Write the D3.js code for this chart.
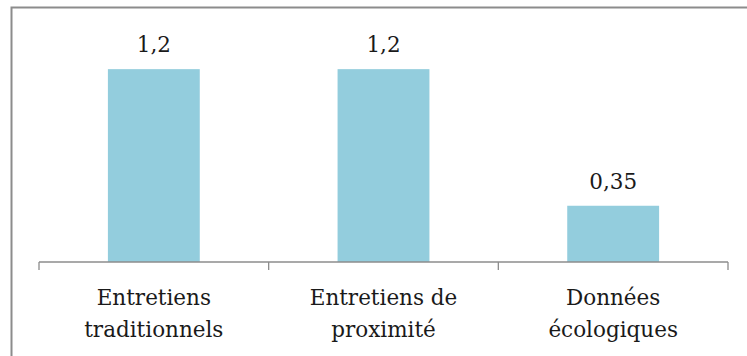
<!DOCTYPE html>
<html>
<head>
<meta charset="utf-8">
<style>
  body { margin: 0; background: #fff; }
  svg text { font-family: "DejaVu Serif", "Liberation Serif", serif; fill: #1a1a1a; }
</style>
</head>
<body>
<div id="container"></div>
<script src="https://d3js.org/d3.v7.min.js"></script>
<script>
// data
var categories = [["Entretiens", "traditionnels"], ["Entretiens de", "proximité"], ["Données", "écologiques"]];
var values = [1.2, 1.2, 0.35];
var valueLabels = ["1,2", "1,2", "0,35"];

var W = 747, H = 356;
var margin = {top: 37, right: 19, bottom: 94, left: 39},
    width = W - margin.left - margin.right,
    height = H - margin.top - margin.bottom;

var svg = d3.select("#container").append("svg")
    .attr("width", W)
    .attr("height", H);

// outer frame (cropped at right and bottom)
svg.append("rect")
    .attr("x", 11.5).attr("y", 7.5)
    .attr("width", W + 10).attr("height", H + 10)
    .attr("fill", "none")
    .attr("stroke", "#8c8c8c")
    .attr("stroke-width", 2);

var g = svg.append("g")
    .attr("transform", "translate(" + margin.left + "," + margin.top + ")");

var keys = categories.map(function (d, i) { return i; });

var x = d3.scaleBand()
    .domain(keys)
    .range([0, width])
    .paddingInner(0.6)
    .paddingOuter(0.3);

var xb = d3.scaleBand().domain(keys).range([0, width]);

var y = d3.scaleLinear()
    .domain([0, 1.4])
    .range([height, 0]);

// bars
g.selectAll("rect.bar").data(values).enter().append("rect")
    .attr("class", "bar")
    .attr("x", function (d, i) { return x(i); })
    .attr("y", function (d) { return y(d); })
    .attr("width", x.bandwidth())
    .attr("height", function (d) { return height - y(d); })
    .attr("fill", "#93cddd");

// axis line and ticks
var axis = g.append("g").attr("transform", "translate(0," + height + ")");
axis.append("line")
    .attr("x1", 0).attr("x2", width)
    .attr("stroke", "#8c8c8c").attr("stroke-width", 1.3);
axis.selectAll("line.tick").data(keys.concat([keys.length])).enter().append("line")
    .attr("class", "tick")
    .attr("x1", function (d) { return d < keys.length ? xb(d) : width; })
    .attr("x2", function (d) { return d < keys.length ? xb(d) : width; })
    .attr("y1", 0).attr("y2", 8)
    .attr("stroke", "#8c8c8c").attr("stroke-width", 1.3);

// category labels
var lab = axis.selectAll("text.cat").data(categories).enter().append("text")
    .attr("class", "cat")
    .attr("text-anchor", "middle")
    .attr("x", function (d, i) { return xb(i) + xb.bandwidth() / 2; })
    .attr("y", 43)
    .style("font-size", "21.5px");
lab.selectAll("tspan").data(function (d) { return d; }).enter().append("tspan")
    .attr("x", function () { return d3.select(this.parentNode).attr("x"); })
    .attr("dy", function (d, i) { return i === 0 ? 0 : 32; })
    .text(function (d) { return d; });

// value labels
g.selectAll("text.val").data(values).enter().append("text")
    .attr("class", "val")
    .attr("text-anchor", "middle")
    .attr("x", function (d, i) { return x(i) + x.bandwidth() / 2; })
    .attr("y", function (d) { return y(d) - 17; })
    .style("font-size", "21.5px")
    .text(function (d, i) { return valueLabels[i]; });
</script>
</body>
</html>
